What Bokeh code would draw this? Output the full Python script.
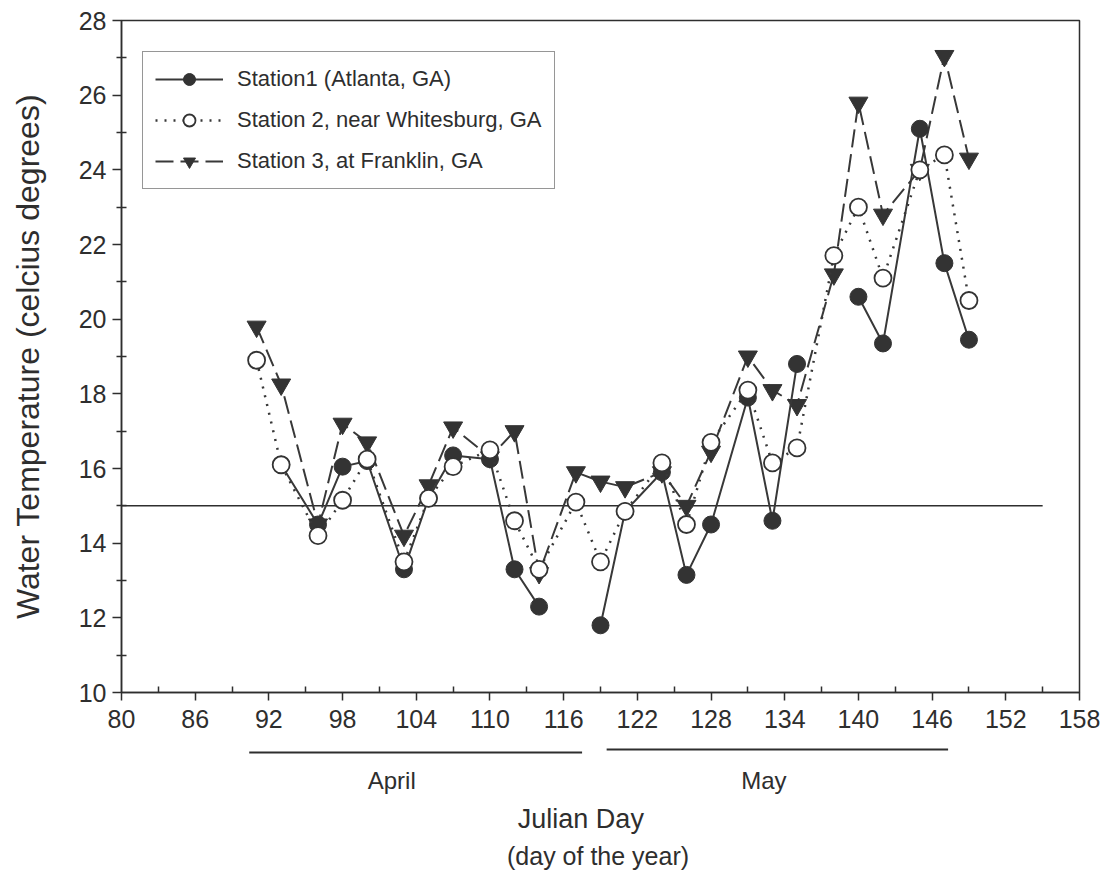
from bokeh.plotting import figure
from bokeh.layouts import column
from bokeh.models import Range1d, FixedTicker, Legend, LegendItem
from bokeh.core.properties import value
from bokeh.embed import file_html
from bokeh.resources import INLINE

nan = float("nan")

# Julian days of sampling
days = [91, 93, 96, 98, 100, 103, 105, 107, 110, 112, 114, 117, 119, 121,
        124, 126, 128, 131, 133, 135, 138, 140, 142, 145, 147, 149]

station1 = [nan, 16.1, 14.5, 16.05, 16.2, 13.3, 15.2, 16.35, 16.25, 13.3, 12.3, nan, 11.8, 14.85,
            15.9, 13.15, 14.5, 17.9, 14.6, 18.8, nan, 20.6, 19.35, 25.1, 21.5, 19.45]
station2 = [18.9, 16.1, 14.2, 15.15, 16.25, 13.5, 15.2, 16.05, 16.5, 14.6, 13.3, 15.1, 13.5, 14.85,
            16.15, 14.5, 16.7, 18.1, 16.15, 16.55, 21.7, 23.0, 21.1, 24.0, 24.4, 20.5]
station3 = [19.8, 18.25, 14.5, 17.2, 16.7, 14.2, 15.55, 17.1, 16.3, 17.0, 13.2, 15.9, 15.65, 15.5,
            15.9, 15.0, 16.45, 19.0, 18.1, 17.7, 21.2, 25.8, 22.8, 24.0, 27.05, 24.3]

names = ["Station1 (Atlanta, GA)", "Station 2, near Whitesburg, GA", "Station 3, at Franklin, GA"]

x_ticks = list(range(80, 159, 6))
x_minor = list(range(83, 158, 6))
y_ticks = list(range(10, 29, 2))
y_minor = list(range(11, 28, 2))

ref_x = [80, 155]
ref_y = [15, 15]

months = ["April", "May"]
month_center = [102.0, 132.3]
month_start = [90.4, 119.5]
month_end = [117.5, 147.3]

title_lines = ["Julian Day", "(day of the year)"]
title_x = [117.4, 118.8]

FONT = "Liberation Sans"
INK = "#2e2e2e"

x_range = Range1d(80, 158)

p = figure(width=1100, height=742, x_range=x_range, y_range=Range1d(10, 28),
           output_backend="svg", toolbar_location=None,
           min_border_left=121, min_border_right=21, min_border_top=20, min_border_bottom=50)
p.xgrid.visible = False
p.ygrid.visible = False
p.outline_line_color = INK
p.outline_line_width = 1.5
p.background_fill_color = "white"

# reference line at 15 C
p.line(ref_x, ref_y, line_color=INK, line_width=1.5)

# Station 3
l3 = p.line(days, station3, line_color="#383838", line_width=2, line_dash="18 7")
s3 = p.scatter(days, station3, marker="inverted_triangle", size=19,
               fill_color="#333333", line_color="#333333")
# Station 1
l1 = p.line(days, station1, line_color="#383838", line_width=2)
s1 = p.scatter(days, station1, marker="circle", size=17,
               fill_color="#333333", line_color="#333333")
# Station 2
l2 = p.line(days, station2, line_color="#383838", line_width=2.5, line_dash="2 7")
s2 = p.scatter(days, station2, marker="circle", size=17,
               fill_color="white", line_color="#333333", line_width=1.8)

for ax in (p.xaxis[0], p.yaxis[0]):
    ax.axis_line_color = INK
    ax.axis_line_width = 1.5
    ax.major_tick_line_color = INK
    ax.major_tick_line_width = 1.5
    ax.minor_tick_line_color = INK
    ax.minor_tick_line_width = 1.5
    ax.major_label_text_font = FONT
    ax.major_label_text_font_size = "25px"
    ax.major_label_text_color = INK
    ax.axis_label_text_font = FONT
    ax.axis_label_text_font_style = "normal"
    ax.axis_label_text_color = INK

p.xaxis.ticker = FixedTicker(ticks=x_ticks, minor_ticks=x_minor)
p.xaxis.major_tick_in = 0
p.xaxis.major_tick_out = 8
p.xaxis.minor_tick_in = 6
p.xaxis.minor_tick_out = 0
p.xaxis.major_label_standoff = 9

p.yaxis.ticker = FixedTicker(ticks=y_ticks, minor_ticks=y_minor)
p.yaxis.major_tick_in = 0
p.yaxis.major_tick_out = 9
p.yaxis.minor_tick_in = 5
p.yaxis.minor_tick_out = 5
p.yaxis.major_label_standoff = 6
p.yaxis.axis_label = "Water Temperature (celcius degrees)"
p.yaxis.axis_label_text_font_size = "32px"
p.yaxis.axis_label_standoff = 30

legend = Legend(items=[LegendItem(label=names[0], renderers=[l1, s1]),
                       LegendItem(label=names[1], renderers=[l2, s2]),
                       LegendItem(label=names[2], renderers=[l3, s3])],
                location=(21, 503))
legend.label_text_font = FONT
legend.label_text_font_size = "22px"
legend.label_text_color = INK
legend.glyph_width = 68
legend.glyph_height = 30
legend.label_height = 30
legend.spacing = 11
legend.padding = 12
legend.margin = 0
legend.label_standoff = 14
legend.border_line_color = INK
legend.border_line_width = 1.5
legend.background_fill_color = "white"
legend.background_fill_alpha = 1
p.add_layout(legend)

# lower strip: month labels, underlines and axis title, sharing the x scale
q = figure(width=1100, height=130, x_range=x_range, y_range=Range1d(0, 130),
           output_backend="svg", toolbar_location=None,
           min_border_left=121, min_border_right=21, min_border_top=0, min_border_bottom=0)
q.axis.visible = False
q.xgrid.visible = False
q.ygrid.visible = False
q.outline_line_color = None

q.segment(x0=month_start, y0=[120, 123], x1=month_end, y1=[120, 123],
          line_color=INK, line_width=2)
q.text(x=month_center, y=[92, 92], text=months, text_align="center", text_baseline="middle",
       text_font=value(FONT), text_font_size="24px", text_color=INK)
q.text(x=title_x, y=[54, 17], text=title_lines, text_align="center", text_baseline="middle",
       text_font=value(FONT), text_font_size=["27px", "25px"], text_color=INK)

layout = column(p, q, spacing=0)
open("out.html", "w").write(file_html(layout, INLINE))
